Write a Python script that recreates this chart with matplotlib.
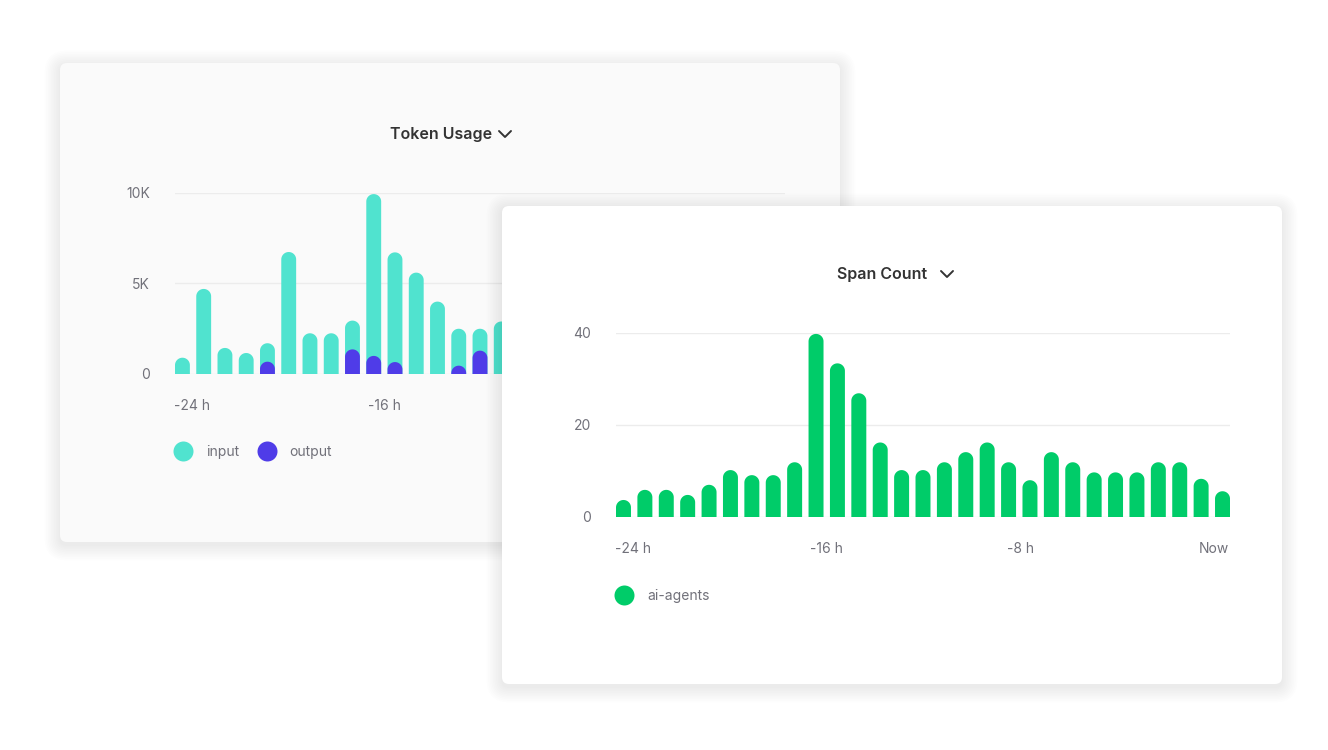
import numpy as np
import matplotlib
matplotlib.use("Agg")
import matplotlib.pyplot as plt
from matplotlib.patches import FancyBboxPatch
from matplotlib.collections import PolyCollection
from matplotlib.lines import Line2D

plt.rcParams['font.family'] = ['Inter', 'DejaVu Sans']

# Token Usage (back card) - only the bars that are not hidden by the front card
token_input = [900, 4700, 1440, 1160, 1700, 6740, 2250, 2250, 2950, 9940,
               6720, 5600, 4000, 2500, 2500, 2900]
token_output = [0, 0, 0, 0, 680, 0, 0, 0, 1360, 1000,
                660, 0, 0, 460, 1290, 0]

# Span Count (front card)
span_count = [3.7, 5.9, 5.9, 4.8, 7.0, 10.2, 9.1, 9.1, 11.9, 39.8,
              33.4, 26.9, 16.2, 10.2, 10.2, 11.9, 14.1, 16.2, 11.9, 8.0,
              14.1, 11.9, 9.7, 9.7, 9.7, 11.9, 11.9, 8.3, 5.6]

x_tick_labels = ['-24 h', '-16 h', '-8 h', 'Now']
token_yticks = [0, 5000, 10000]
token_ylabels = ['0', '5K', '10K']
span_yticks = [0, 20, 40]

TEAL = '#50e3cf'
PURPLE = '#4f3ce8'
GREEN = '#00cc69'
LABEL = '#71717a'
TITLE = '#333333'
GRID = '#ececec'

W, H = 1328, 750
fig = plt.figure(figsize=(W / 100, H / 100), dpi=100)
fig.patch.set_facecolor('white')


def px_rect(x0, y0, x1, y1):
    return [x0 / W, 1 - y1 / H, (x1 - x0) / W, (y1 - y0) / H]


def pixel_axes(z):
    a = fig.add_axes([0, 0, 1, 1], zorder=z)
    a.set_xlim(0, W)
    a.set_ylim(H, 0)
    a.axis('off')
    a.patch.set_alpha(0)
    return a


def card(a, x0, y0, x1, y1, face):
    # soft shadow
    for k in range(10):
        s = 1 + k * 1.6
        a.add_patch(FancyBboxPatch((x0 - s, y0 - s + 3), x1 - x0 + 2 * s, y1 - y0 + 2 * s,
                                   boxstyle='round,pad=0,rounding_size=%f' % (7 + s),
                                   fc='black', ec='none', alpha=0.007))
    a.add_patch(FancyBboxPatch((x0, y0), x1 - x0, y1 - y0,
                               boxstyle='round,pad=0,rounding_size=7',
                               fc=face, ec='none'))


def title(a, cx, cy, text, chev_x):
    a.text(cx, cy, text, ha='center', va='center', fontsize=11.5,
           fontweight='semibold', color=TITLE)
    a.plot([chev_x, chev_x + 6, chev_x + 12], [cy - 3, cy + 3, cy - 3],
           color=TITLE, lw=1.4, solid_capstyle='round', solid_joinstyle='round')


def rounded_bars(ax, values, color, width=0.70):
    # each bar is a polygon whose top is a half ellipse that looks round on screen
    bb = ax.get_position()
    y0, y1 = ax.get_ylim()
    x0, x1 = ax.get_xlim()
    px_x = bb.width * W / (x1 - x0)
    px_y = bb.height * H / (y1 - y0)
    r = (width / 2) * px_x / px_y
    t = np.linspace(0, np.pi, 40)
    polys = []
    for i, v in enumerate(values):
        if v <= 0:
            continue
        top = v - r
        arc = np.column_stack([i + (width / 2) * np.cos(t), top + r * np.sin(t)])
        pts = np.vstack([[i + width / 2, min(0, top)], arc, [i - width / 2, min(0, top)]])
        polys.append(pts)
    ax.add_collection(PolyCollection(polys, facecolors=color, edgecolors='none',
                                     zorder=3, antialiased=True))


def style_axes(ax, yticks, ylabels, ylim):
    ax.set_xlim(-0.35, 28.35)
    ax.set_ylim(*ylim)
    ax.set_yticks(yticks)
    ax.set_yticklabels(ylabels)
    ax.set_xticks(np.linspace(0.45, 27.6, 4))
    ax.set_xticklabels(x_tick_labels)
    ax.tick_params(length=0, labelsize=10, labelcolor=LABEL)
    ax.tick_params(axis='y', pad=18)
    ax.tick_params(axis='x', pad=18)
    for s in ax.spines.values():
        s.set_visible(False)
    ax.grid(axis='y', color=GRID, lw=1)
    ax.set_axisbelow(True)
    ax.patch.set_alpha(0)


def legend(ax, names, colors, x_anchor):
    handles = [Line2D([], [], marker='o', ls='none', ms=14.4, mew=0, color=c) for c in colors]
    ax.legend(handles, names, loc='center left', bbox_to_anchor=(x_anchor, -0.43),
              frameon=False, ncol=len(names), fontsize=10, labelcolor=LABEL,
              handlelength=1.4, handletextpad=0.95, columnspacing=1.3, borderpad=0,
              borderaxespad=0)


# back card
bg = pixel_axes(0)
card(bg, 60, 63, 840, 542, '#fafafa')
title(bg, 441, 134, 'Token Usage', 499)

ax1 = fig.add_axes(px_rect(175, 193, 785, 374), zorder=1)
style_axes(ax1, token_yticks, token_ylabels, (0, 10000))
rounded_bars(ax1, token_input, TEAL)
rounded_bars(ax1, token_output, PURPLE)
legend(ax1, ['input', 'output'], [TEAL, PURPLE], -0.003)

# front card
fg = pixel_axes(2)
card(fg, 502, 206, 1282, 684, 'white')
title(fg, 882, 274, 'Span Count', 941)

ax2 = fig.add_axes(px_rect(616, 333, 1230, 517), zorder=3)
style_axes(ax2, span_yticks, [str(v) for v in span_yticks], (0, 40))
rounded_bars(ax2, span_count, GREEN)
legend(ax2, ['ai-agents'], [GREEN], -0.002)

fig.savefig('out.png', dpi=100)
